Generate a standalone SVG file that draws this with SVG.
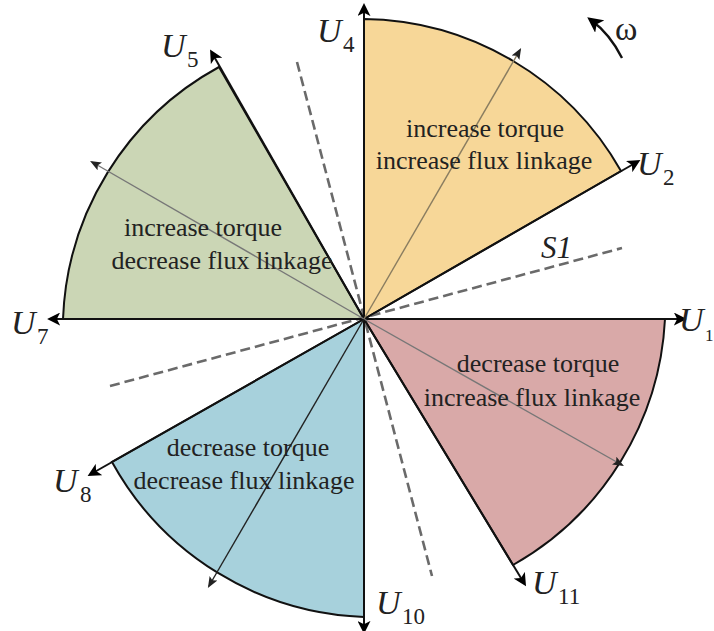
<svg xmlns="http://www.w3.org/2000/svg" width="714" height="631" viewBox="0 0 714 631">
<defs>
<marker id="ah" viewBox="0 0 10 10" refX="7" refY="5" markerWidth="6.5" markerHeight="6.5" orient="auto" markerUnits="strokeWidth">
<path d="M0,0 L10,5 L0,10 L2.5,5 Z" fill="#000"/>
</marker>
<marker id="ahs" viewBox="0 0 10 10" refX="8" refY="5" markerWidth="8" markerHeight="8" orient="auto" markerUnits="strokeWidth">
<path d="M0,1 L10,5 L0,9 L2,5 Z" fill="#222"/>
</marker>
</defs>
<style>
.sec{stroke:#111;stroke-width:2;stroke-linejoin:miter}
.ax{stroke:#111;stroke-width:2;fill:none;marker-end:url(#ah)}
.in{stroke:#777;stroke-width:1.4;fill:none;marker-end:url(#ahs)}
.dash{stroke:#6a6a6a;stroke-width:2.6;stroke-dasharray:10 5;fill:none}
.t{font-family:"Liberation Serif","Times New Roman",serif;font-size:26px;fill:#222;text-anchor:middle}
.u{font-family:"Liberation Serif","Times New Roman",serif;font-style:italic;font-size:34px;fill:#222}
.s{font-family:"Liberation Serif","Times New Roman",serif;font-size:23px;fill:#222}
</style>
<rect width="714" height="631" fill="#fff"/>
<g id="sector-yellow"><path class="sec" d="M364,319 L364,19 A300,300 0 0 1 621,171 Z" fill="#F7D798"/></g>
<g id="sector-green"><path class="sec" d="M364,319 L219,67 A300,300 0 0 0 63,319 Z" fill="#CBD6B5"/></g>
<g id="sector-red"><path class="sec" d="M364,319 L665,319 A300,300 0 0 1 513,565 Z" fill="#D9A9A8"/></g>
<g id="sector-blue"><path class="sec" d="M364,319 L112,462 A300,300 0 0 0 364,617 Z" fill="#A7D1DC"/></g>
<g id="connectors">
<line class="dash" x1="297" y1="62" x2="432" y2="576"/>
<line class="dash" x1="110" y1="386" x2="622" y2="248"/>
<line class="ax" x1="364" y1="319" x2="364" y2="7"/>
<line class="ax" x1="364" y1="319" x2="637" y2="162"/>
<line class="ax" x1="364" y1="319" x2="683" y2="319"/>
<line class="ax" x1="364" y1="319" x2="212" y2="53"/>
<line class="ax" x1="364" y1="319" x2="51" y2="319"/>
<line class="ax" x1="364" y1="319" x2="91" y2="474"/>
<line class="ax" x1="364" y1="319" x2="364" y2="630"/>
<line class="ax" x1="364" y1="319" x2="524" y2="583"/>
<line class="in" x1="364" y1="319" x2="520" y2="50" style="stroke:#8a7d60"/>
<line class="in" x1="364" y1="319" x2="92" y2="162"/>
<line class="in" x1="364" y1="319" x2="622" y2="465"/>
<line class="in" x1="364" y1="319" x2="209" y2="586" style="stroke:#222"/>
<path d="M622,58 Q610,34 591,20" stroke="#111" stroke-width="2.4" fill="none" marker-end="url(#ah)"/>
</g>
<g id="labels">
<text class="t" x="485" y="137">increase torque</text>
<text class="t" x="484" y="169">increase flux linkage</text>
<text class="t" x="203" y="236">increase torque</text>
<text class="t" x="222" y="269">decrease flux linkage</text>
<text class="t" x="538" y="372">decrease torque</text>
<text class="t" x="532" y="406">increase flux linkage</text>
<text class="t" x="248" y="456">decrease torque</text>
<text class="t" x="244" y="489">decrease flux linkage</text>
<text class="u" x="317" y="42">U</text><text class="s" x="343" y="52">4</text>
<text class="u" x="637" y="175">U</text><text class="s" x="663" y="185">2</text>
<text class="u" x="679" y="331">U</text><text class="s" x="705" y="341" style="font-size:17px">1</text>
<text class="u" x="161" y="57">U</text><text class="s" x="187" y="67">5</text>
<text class="u" x="11" y="334">U</text><text class="s" x="37" y="344">7</text>
<text class="u" x="53" y="492">U</text><text class="s" x="80" y="502">8</text>
<text class="u" x="376" y="614">U</text><text class="s" x="402" y="624">10</text>
<text class="u" x="532" y="594">U</text><text class="s" x="558" y="604">11</text>
<text class="u" x="541" y="258" style="font-size:31px">S1</text>
<text class="s" x="615" y="40" style="font-size:34px">ω</text>
</g>
</svg>
